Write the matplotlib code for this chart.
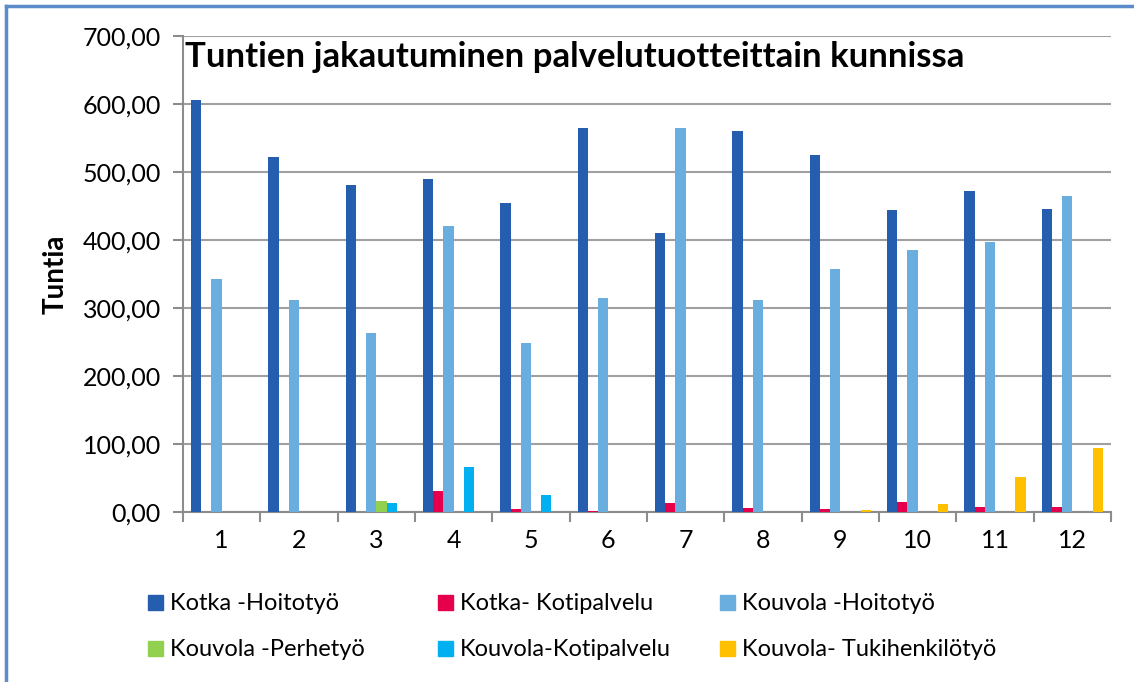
import numpy as np
import matplotlib.pyplot as plt
from matplotlib.patches import Rectangle
from matplotlib.lines import Line2D

# data
months = [str(i) for i in range(1, 13)]
series = ["Kotka -Hoitotyö", "Kotka- Kotipalvelu", "Kouvola -Hoitotyö",
          "Kouvola -Perhetyö", "Kouvola-Kotipalvelu", "Kouvola- Tukihenkilötyö"]
kotka_hoito = [606, 522, 481, 490, 455, 565, 410, 561, 525, 444, 472, 445]
kotka_koti = [0, 0, 0, 31.5, 5, 1.5, 13, 6, 4.5, 14, 7, 7]
kouvola_hoito = [343, 312, 263, 421, 249, 315, 564, 312, 357, 385, 397, 464]
kouvola_perhe = [0, 0, 16, 0, 0, 0, 0, 0, 0, 0, 0, 0]
kouvola_koti = [0, 0, 12.8, 65.7, 25, 0, 0, 0, 0, 0, 0, 0]
kouvola_tuki = [0, 0, 0, 0, 0, 0, 0, 0, 2.5, 12.3, 51.5, 94]
values = [kotka_hoito, kotka_koti, kouvola_hoito, kouvola_perhe, kouvola_koti, kouvola_tuki]
colors = ["#255EAE", "#E6004C", "#6AAEE0", "#92D050", "#00B0F0", "#FFC000"]

plt.rcParams['font.family'] = ['Lato', 'DejaVu Sans']

fig = plt.figure(figsize=(11.34, 6.82), dpi=100)
ax = fig.add_axes([183/1134, 1-512/682, (1111-183)/1134, (512-36)/682])

x = np.arange(12)
w = 0.132
for i in range(6):
    ax.bar(x + (i - 2.5)*w, values[i], w, color=colors[i], zorder=3)

ax.set_xlim(-0.5, 11.5)
ax.set_ylim(0, 700)
ax.set_yticks(np.arange(0, 701, 100))
ax.set_yticklabels([("%.2f" % v).replace('.', ',') for v in np.arange(0, 701, 100)], fontsize=18)
ax.set_xticks(x)
ax.set_xticklabels(months, fontsize=18)
ax.set_xticks(np.arange(-0.5, 12, 1), minor=True)
ax.tick_params(axis='x', which='major', length=0, pad=12)
ax.tick_params(axis='x', which='minor', length=7, width=1.5, color='#8C8C8C', direction='out')
ax.tick_params(axis='y', length=7, width=1.5, color='#8C8C8C', pad=9)
ax.grid(axis='y', color='#A0A0A0', linewidth=1.5, zorder=0)
for s in ['top', 'right']:
    ax.spines[s].set_visible(False)
for s in ['left', 'bottom']:
    ax.spines[s].set_color('#8C8C8C')
    ax.spines[s].set_linewidth(1.5)
ax.set_ylabel("Tuntia", fontsize=20, fontweight='bold', labelpad=10)

ax.text(0.002, 0.99, "Tuntien jakautuminen palvelutuotteittain kunnissa",
        transform=ax.transAxes, fontsize=25, fontweight='bold', va='top', ha='left')

# legend, two rows of three
col_x = [148, 438, 720]
row_y = [603, 649]
for i in range(6):
    cx = col_x[i % 3]
    cy = row_y[i // 3]
    fig.patches.append(Rectangle((cx/1134, 1-(cy+7)/682), 15/1134, 15/682,
                                 transform=fig.transFigure, color=colors[i]))
    fig.text((cx+22)/1134, 1-cy/682, series[i], fontsize=17, va='center', ha='left')

# outer border (top and left visible)
fig.add_artist(Line2D([6/1134, 6/1134], [0, 1-6/682], color='#5B8BC9', linewidth=2.5,
                      transform=fig.transFigure))
fig.add_artist(Line2D([6/1134, 1], [1-6/682, 1-6/682], color='#5B8BC9', linewidth=2.5,
                      transform=fig.transFigure))

fig.savefig("out.png", dpi=100)
